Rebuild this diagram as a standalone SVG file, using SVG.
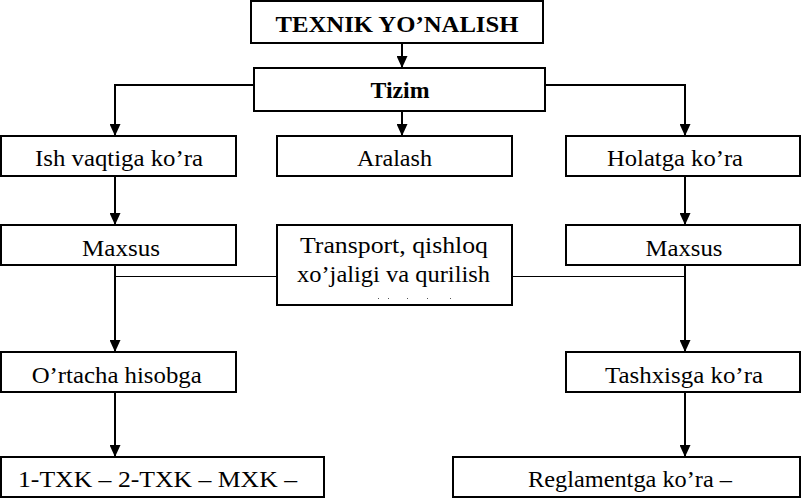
<svg xmlns="http://www.w3.org/2000/svg" width="802" height="498" viewBox="0 0 802 498">
<defs>
<marker id="ah" viewBox="0 0 12 11" refX="12" refY="5.5" markerWidth="12" markerHeight="11" markerUnits="userSpaceOnUse" orient="auto">
<path d="M0,0 L12,5.5 L0,11 z" fill="#000"/>
</marker>
<style>
.box{fill:#fff;stroke:#000;stroke-width:2}
.c{fill:none;stroke:#000;stroke-width:2}
.a{marker-end:url(#ah)}
.thin{fill:none;stroke:#000;stroke-width:1}
</style>
</defs>
<rect width="802" height="498" fill="#fff"/>
<g id="connectors">
<line class="c a" x1="402" y1="43" x2="402" y2="68"/>
<line class="c a" x1="402" y1="111" x2="402" y2="136"/>
<polyline class="c a" points="254,85 115,85 115,136"/>
<polyline class="c a" points="545,85 685,85 685,136"/>
<line class="c a" x1="115" y1="176" x2="115" y2="225"/>
<line class="c a" x1="685" y1="176" x2="685" y2="225"/>
<line class="c a" x1="115" y1="265" x2="115" y2="352"/>
<line class="c a" x1="685" y1="265" x2="685" y2="352"/>
<line class="thin" x1="115" y1="276.5" x2="277" y2="276.5"/>
<line class="thin" x1="512" y1="276.5" x2="685" y2="276.5"/>
<line class="c a" x1="115" y1="392" x2="115" y2="457"/>
<line class="c a" x1="685" y1="392" x2="685" y2="457"/>
</g>
<g font-family="Liberation Serif, Times New Roman, serif" font-size="24" fill="#000" text-anchor="middle">
<g id="n-texnik">
<rect class="box" x="251" y="1" width="292" height="42"/>
<text x="397" y="32" font-weight="bold" textLength="243" lengthAdjust="spacingAndGlyphs">TEXNIK YO’NALISH</text>
</g>
<g id="n-tizim">
<rect class="box" x="254" y="68" width="291" height="43"/>
<text x="400" y="98" font-weight="bold" textLength="59" lengthAdjust="spacingAndGlyphs">Tizim</text>
</g>
<g id="n-ish">
<rect class="box" x="1" y="136" width="235" height="40"/>
<text x="119" y="166" textLength="168" lengthAdjust="spacingAndGlyphs">Ish vaqtiga ko’ra</text>
</g>
<g id="n-aralash">
<rect class="box" x="277" y="136" width="235" height="40"/>
<text x="394.5" y="166" textLength="75" lengthAdjust="spacingAndGlyphs">Aralash</text>
</g>
<g id="n-holat">
<rect class="box" x="566" y="136" width="234" height="40"/>
<text x="675" y="166" textLength="136" lengthAdjust="spacingAndGlyphs">Holatga ko’ra</text>
</g>
<g id="n-maxsus1">
<rect class="box" x="1" y="225" width="235" height="40"/>
<text x="121" y="255.5" textLength="78" lengthAdjust="spacingAndGlyphs">Maxsus</text>
</g>
<g id="n-transport">
<rect class="box" x="277" y="225" width="235" height="80"/>
<text x="394" y="253" textLength="188" lengthAdjust="spacingAndGlyphs">Transport, qishloq</text>
<text x="393.5" y="281.5" textLength="193" lengthAdjust="spacingAndGlyphs">xo’jaligi va qurilish</text>
<g fill="#555">
<rect x="378" y="298" width="1" height="1"/>
<rect x="388" y="298" width="1" height="1"/>
<rect x="407" y="298" width="1" height="1"/>
<rect x="427" y="298" width="1" height="1"/>
<rect x="450" y="298" width="1" height="1"/>
</g>
</g>
<g id="n-maxsus2">
<rect class="box" x="566" y="225" width="234" height="40"/>
<text x="684" y="255.5" textLength="77" lengthAdjust="spacingAndGlyphs">Maxsus</text>
</g>
<g id="n-ortacha">
<rect class="box" x="1" y="352" width="235" height="40"/>
<text x="116.7" y="383" textLength="170" lengthAdjust="spacingAndGlyphs">O’rtacha hisobga</text>
</g>
<g id="n-tashxis">
<rect class="box" x="566" y="352" width="234" height="40"/>
<text x="684" y="383" textLength="158" lengthAdjust="spacingAndGlyphs">Tashxisga ko’ra</text>
</g>
<g id="n-txk">
<rect class="box" x="1" y="457" width="323" height="40"/>
<text x="157.5" y="487" textLength="279" lengthAdjust="spacingAndGlyphs">1-TXK – 2-TXK – MXK –</text>
</g>
<g id="n-reglament">
<rect class="box" x="453" y="457" width="347" height="40"/>
<text x="630" y="487" textLength="204" lengthAdjust="spacingAndGlyphs">Reglamentga ko’ra –</text>
</g>
</g>
</svg>
